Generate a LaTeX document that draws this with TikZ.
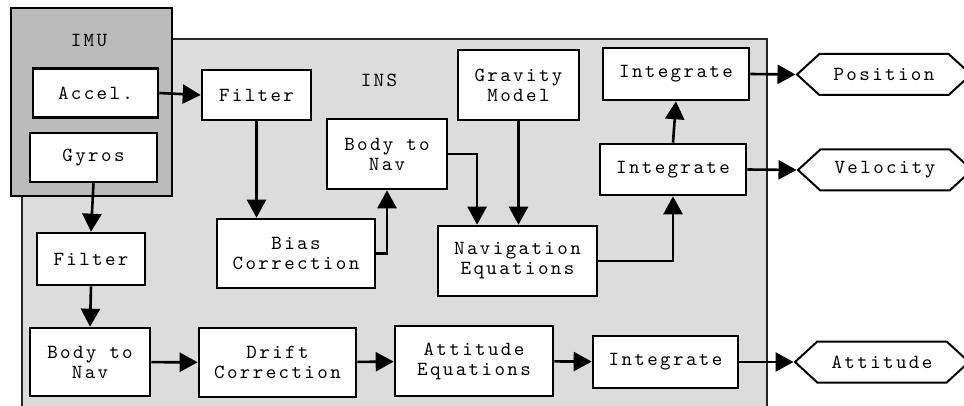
\documentclass[tikz,border=0pt]{standalone}
\usepackage{fontspec}
\setmonofont{lmmono10-regular.otf}[LetterSpace=12]
\usepackage{tikz}
\usetikzlibrary{calc}
\usetikzlibrary{arrows.meta}
\usetikzlibrary{shapes.symbols}
\definecolor{imugray}{HTML}{BBBBBB}
\definecolor{insgray}{HTML}{DCDCDC}

\begin{document}
\begin{tikzpicture}[x=1pt,y=-1pt,
        font=\fontsize{20}{20}\ttfamily,
        blk/.style={draw,fill=white,line width=2.6pt,inner sep=0pt,align=center},
        outsig/.style={draw,fill=white,line width=2pt,signal,signal to=west and east,signal from=nowhere,
            signal pointer angle=85,minimum width=174pt,minimum height=41pt,inner sep=0pt},
        conn/.style={line width=2.6pt,-{Triangle[length=18pt,width=19pt]}}]
        \useasboundingbox (0,0) rectangle (964,406);

        % frames
        \filldraw[fill=insgray,draw=black!85,line width=2pt] (22,39) rectangle (767,440);
        \filldraw[fill=imugray,draw=black,line width=2.6pt] (11,8) rectangle (172,196);
        \node (imulbl) at (89,41) {IMU};
        \node (inslbl) at (379,80) {INS};

        % blocks
        \node[blk,minimum width=125pt,minimum height=49pt] (accel)  at (95.5,93)    {Accel.};
        \node[blk,minimum width=127pt,minimum height=49pt] (gyros)  at (93.5,157.5) {Gyros};
        \node[blk,minimum width=109pt,minimum height=50pt] (filt)   at (256.5,95)   {Filter};
        \node[blk,minimum width=121pt,minimum height=70pt] (grav)   at (518.5,85)   {Gravity\\Model};
        \node[blk,minimum width=146pt,minimum height=52pt] (inttop) at (676,74)     {Integrate};
        \node[blk,minimum width=120pt,minimum height=70pt] (bnav)   at (387,154)    {Body to\\Nav};
        \node[blk,minimum width=146pt,minimum height=51pt] (intmid) at (673,169.5)  {Integrate};
        \node[blk,minimum width=158pt,minimum height=69pt] (bias)   at (296,253.5)  {Bias\\Correction};
        \node[blk,minimum width=159pt,minimum height=70pt] (naveq)  at (517.5,261)  {Navigation\\Equations};
        \node[blk,minimum width=108pt,minimum height=52pt] (filtb)  at (91,259)     {Filter};
        \node[blk,minimum width=120pt,minimum height=68pt] (bnavb)  at (90,362)     {Body to\\Nav};
        \node[blk,minimum width=157pt,minimum height=69pt] (drift)  at (277.5,362.5) {Drift\\Correction};
        \node[blk,minimum width=158pt,minimum height=70pt] (atteq)  at (474,361)    {Attitude\\Equations};
        \node[blk,minimum width=145pt,minimum height=52pt] (intbot) at (665.5,362)  {Integrate};

        % outputs
        \node[outsig] (pos) at (884,74.5) {Position};
        \node[outsig] (vel) at (885,170)  {Velocity};
        \node[outsig] (att) at (882,362)  {Attitude};

        % connectors
        \draw[conn] (accel.east) -- (filt.west);
        \draw[conn] (filt.south) -- (filt.south |- bias.north);
        \draw[conn] (bias.east) -| (bnav.south);
        \draw[conn] (bnav.east) -| ($(naveq.north west)!0.25!(naveq.north east)$);
        \draw[conn] (grav.south) -- (grav.south |- naveq.north);
        \draw[conn] (naveq.east) -| (intmid.south);
        \draw[conn] (intmid.north) -- (inttop.south);
        \draw[conn] (inttop.east) -- (pos.west);
        \draw[conn] (intmid.east) -- (vel.west);
        \draw[conn] (gyros.south) -- (filtb.north);
        \draw[conn] (filtb.south) -- (bnavb.north);
        \draw[conn] (bnavb) -- (drift);
        \draw[conn] (drift) -- (atteq);
        \draw[conn] (atteq) -- (intbot);
        \draw[conn] (intbot.east) -- (att.west);
\end{tikzpicture}
\end{document}
